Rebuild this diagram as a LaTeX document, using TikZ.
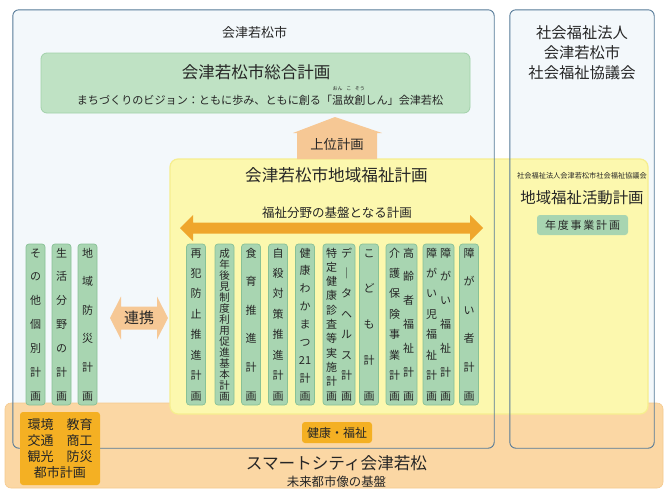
\documentclass[tikz,border=0pt]{standalone}
\usepackage{fontspec}
\newfontfamily\jp{Noto Sans CJK JP}
\newcommand\fs[1]{\fontsize{#1}{#1}\selectfont}
\definecolor{frameblue}{HTML}{557A98}
\definecolor{framefill}{HTML}{F3F8FB}
\definecolor{titlegreen}{HTML}{BFE2C4}
\definecolor{titlegreenline}{HTML}{A2D1AA}
\definecolor{colgreen}{HTML}{A8D5B1}
\definecolor{colgreenline}{HTML}{88C196}
\definecolor{yel}{HTML}{FCF8AE}
\definecolor{yelline}{HTML}{F6EE8E}
\definecolor{bandor}{HTML}{FBD7A4}
\definecolor{bandline}{HTML}{F5CA8E}
\definecolor{gold}{HTML}{F4B023}
\definecolor{arrowor}{HTML}{EFA62C}
\definecolor{peach}{HTML}{F6C895}
\definecolor{txt}{HTML}{262626}
% vertical stack of characters
\newcommand\vstk[1]{\vbox to 154pt{\offinterlineskip\foreach \ch [count=\k] in {#1}{\ifnum\k>1 \vfill\fi\hbox to 12pt{\hss\raisebox{0pt}[9.5pt][1.5pt]{\ch}\hss}}\kern0pt}}
% ruby
\newcommand\rb[2]{\makebox[0pt][l]{\makebox[11.1pt][c]{\smash{\raisebox{13.5pt}{\fs{5}#2}}}}#1}
\begin{document}
\begin{tikzpicture}[x=1pt,y=-1pt,
  every node/.style={text=txt},
  fillframe/.style={fill=framefill, rounded corners=6pt, minimum width=#1, minimum height=438pt, inner sep=0pt},
  frameline/.style={draw=frameblue, line width=0.9pt, rounded corners=6pt},
  colbox/.style={draw=colgreenline, fill=colgreen, rounded corners=3pt, minimum width=#1, minimum height=161pt, inner sep=0pt, line width=0.7pt, font=\jp\fs{11}},
  goldbox/.style={fill=gold, rounded corners=3pt, inner sep=0pt},
  lbl/.style={font=\jp\fs{#1}, inner sep=0pt}
]
\path[use as bounding box, fill=white] (0,0) rectangle (672,496);

% frames (fill)
\node[fillframe=481pt] (city) at (253.5,229) {};
\node[fillframe=144pt] (shakyo) at (582,229) {};

% orange band
\node[fill=bandor, draw=bandline, line width=0.6pt, rounded corners=6pt, minimum width=658pt, minimum height=85pt, inner sep=0pt] (band) at (334,445.5) {};

% city title + general plan
\node[lbl=13] (tcity) at (254.5,33) {会津若松市};
\node[fill=titlegreen, draw=titlegreenline, line width=0.8pt, rounded corners=6pt, minimum width=429pt, minimum height=60pt, inner sep=0pt] (sogo) at (255.5,83) {};
\node[lbl=16.5] (tsogo) at (256,72) {会津若松市総合計画};
\node[lbl=11.1] (tvision) at (260,100) {まちづくりのビジョン：ともに歩み、ともに創る「\rb{温}{おん}\rb{故}{こ}\rb{創}{そう}しん」会津若松};

% yellow regional welfare plan area
\node[fill=yel, draw=yelline, line width=1.2pt, rounded corners=8pt, minimum width=478pt, minimum height=255pt, inner sep=0pt] (chiiki) at (409,286.5) {};

% frame borders on top
\draw[frameline] (city.north west) rectangle (city.south east);
\draw[frameline] (shakyo.north west) rectangle (shakyo.south east);

% upper plan arrow
\path[fill=peach] (293,133) -- (335,117) -- (382,133) -- (377,133) -- (377,159) -- (297,159) -- (297,133) -- cycle;
\node[lbl=13.3] (tjoui) at (337,144) {上位計画};

% regional plan title
\node[lbl=16.6] (tchiiki) at (336.5,175) {会津若松市地域福祉計画};
\node[lbl=12.5] (tkiban) at (337,213) {福祉分野の基盤となる計画};
\path[fill=arrowor] (180,228) -- (193,215) -- (193,222.5) -- (470,222.5) -- (470,215) -- (483,228) -- (470,241) -- (470,233.5) -- (193,233.5) -- (193,241) -- cycle;

% left columns
\node[colbox=19pt] (c1) at (35.5,324.5) {\vstk{そ,の,他,個,別,計,画}};
\node[colbox=19pt] (c2) at (61.5,324.5) {\vstk{生,活,分,野,の,計,画}};
\node[colbox=19pt] (c3) at (87.5,324.5) {\vstk{地,域,防,災,計,画}};

% renkei arrow
\path[fill=peach] (110,318) -- (121,296.5) -- (121,306.5) -- (157,306.5) -- (157,296.5) -- (168,318) -- (157,339.5) -- (157,329.5) -- (121,329.5) -- (121,339.5) -- cycle;
\node[lbl=15] (trenkei) at (139,318) {連携};

% welfare plan columns
\node[colbox=19pt] (p1) at (196,324.5) {\vstk{再,犯,防,止,推,進,計,画}};
\node[colbox=19pt, font=\jp\fs{10.5}] (p2) at (224.5,324.5) {\vstk{成,年,後,見,制,度,利,用,促,進,基,本,計,画}};
\node[colbox=19pt] (p3) at (251,324.5) {\vstk{食,育,推,進,計,画}};
\node[colbox=19pt] (p4) at (278,324.5) {\vstk{自,殺,対,策,推,進,計,画}};
\node[colbox=19pt] (p5) at (305,324.5) {\vstk{健,康,わ,か,ま,つ,21,計,画}};
\node[colbox=32pt] (p6) at (339,324.5) {\vstk{特,定,健,康,診,査,等,実,施,計,画}\hspace{3pt}\vstk{デ,｜,タ,ヘ,ル,ス,計,画}};
\node[colbox=19pt] (p7) at (369,324.5) {\vstk{こ,ど,も,計,画}};
\node[colbox=31pt] (p8) at (401.5,324.5) {\vstk{介,護,保,険,事,業,計,画}\hspace{2pt}\vstk{高,齢,者,福,祉,計,画}};
\node[colbox=31pt] (p9) at (438.5,324.5) {\vstk{障,が,い,児,福,祉,計,画}\hspace{2pt}\vstk{障,が,い,福,祉,計,画}};
\node[colbox=19pt] (p10) at (469,324.5) {\vstk{障,が,い,者,計,画}};

% right box texts
\node[font=\jp\fontsize{15.3}{20}\selectfont, align=center, inner sep=0pt] (torg) at (582,53) {社会福祉法人\\会津若松市\\社会福祉協議会};
\node[lbl=7.2] (tsmall) at (582,176) {社会福祉法人会津若松市社会福祉協議会};
\node[lbl=15.4] (tkatsudo) at (582,198) {地域福祉活動計画};
\node[fill=colgreen, rounded corners=3pt, minimum width=91pt, minimum height=20pt, inner sep=0pt, font=\jp\fs{11}] (nendo) at (582.5,225) {年\hspace{1.8pt}度\hspace{1.8pt}事\hspace{1.8pt}業\hspace{1.8pt}計\hspace{1.8pt}画};

% smart city band
\node[goldbox, minimum width=80pt, minimum height=73pt] (fields) at (60,448.5) {};
\node[lbl=13] (f1) at (60,425) {環境　教育};
\node[lbl=13] (f2) at (60,441) {交通　商工};
\node[lbl=13] (f3) at (60,457) {観光　防災};
\node[lbl=13] (f4) at (60,473) {都市計画};
\node[goldbox, minimum width=70pt, minimum height=21pt, font=\jp\fs{12}] (kenko) at (337,432.5) {健康・福祉};
\node[lbl=16.6] (tsmart) at (336.5,463) {スマートシティ会津若松};
\node[lbl=12.4] (tmirai) at (336.5,482) {未来都市像の基盤};
\end{tikzpicture}
\end{document}
